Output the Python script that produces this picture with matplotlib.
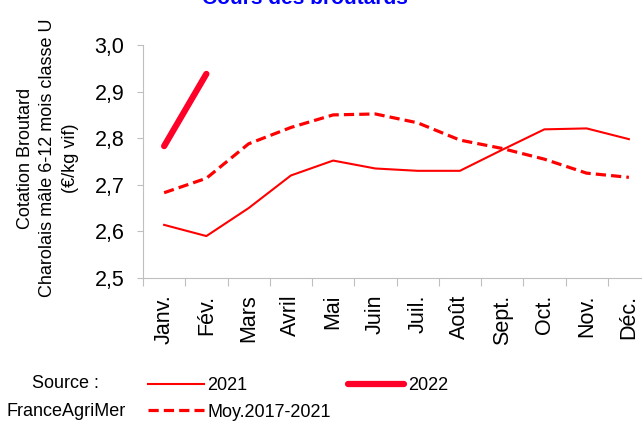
import numpy as np
import matplotlib
matplotlib.use('Agg')
import matplotlib.pyplot as plt

plt.rcParams['font.family'] = ['Liberation Sans', 'DejaVu Sans']

mois = ['Janv.', 'Fév.', 'Mars', 'Avril', 'Mai', 'Juin', 'Juil.', 'Août',
        'Sept.', 'Oct.', 'Nov.', 'Déc.']
cours_2021 = [2.614, 2.590, 2.650, 2.720, 2.752, 2.735, 2.730, 2.730,
              2.775, 2.819, 2.821, 2.798]
cours_2022 = [2.783, 2.938]
moy_2017_2021 = [2.683, 2.714, 2.788, 2.823, 2.850, 2.852, 2.833, 2.796,
                 2.778, 2.755, 2.725, 2.716]
y_ticks = [2.5, 2.6, 2.7, 2.8, 2.9, 3.0]

fig = plt.figure(figsize=(6.42, 4.21), dpi=100)
ax = fig.add_axes([143/642, 1-278/421, (650-143)/642, (278-45)/421])

x = np.arange(len(mois))
l1, = ax.plot(x, cours_2021, color='#ff0000', lw=1.5, label='2021')
l3, = ax.plot(x, moy_2017_2021, color='#ff0000', lw=2.3, dashes=(3.2, 1.6),
              label='Moy.2017-2021')
l2, = ax.plot(x[:len(cours_2022)], cours_2022, color='#ff0028', lw=4.5,
              solid_capstyle='round', label='2022')

ax.set_xlim(-0.5, 11.5)
ax.set_ylim(2.5, 3.0)
ax.set_yticks(y_ticks)
ax.set_yticklabels([f'{v:.1f}'.replace('.', ',') for v in y_ticks], fontsize=15.5)
ax.set_xticks(np.arange(-0.5, 12, 1))
ax.set_xticklabels([])
ax.set_xticks(x, minor=True)
ax.set_xticklabels(mois, minor=True, rotation=90, fontsize=15.5)
ax.tick_params(axis='x', which='minor', length=0, pad=12)
ax.tick_params(axis='x', which='major', length=6, color='#bfbfbf')
ax.tick_params(axis='y', length=4.5, color='#bfbfbf', pad=9)
for s in ['top', 'right']:
    ax.spines[s].set_visible(False)
for s in ['left', 'bottom']:
    ax.spines[s].set_color('#bfbfbf')

fig.text(48/642, 1-158/421,
         'Cotation Broutard\nCharolais mâle 6-12 mois classe U\n(€/kg vif)',
         rotation=90, ha='center', va='center', fontsize=13, linespacing=1.44)

fig.text(305/642, 1-4/421, 'Cours des broutards', color='#0000ff',
         fontsize=15, fontweight='bold', ha='center', va='baseline')

fig.text(65/642, 1-384/421, 'Source :', ha='center', va='center', fontsize=13)
fig.text(66/642, 1-412/421, 'FranceAgriMer', ha='center', va='center', fontsize=13)

fig.legend(handles=[l1, l3, l2], ncol=2, frameon=False, fontsize=13,
           loc='center left', bbox_to_anchor=(148/642, 1-399/421),
           handlelength=3.1, handletextpad=0.2, columnspacing=0.95,
           labelspacing=0.5, borderaxespad=0, borderpad=0)

fig.savefig('out.png', dpi=100)
